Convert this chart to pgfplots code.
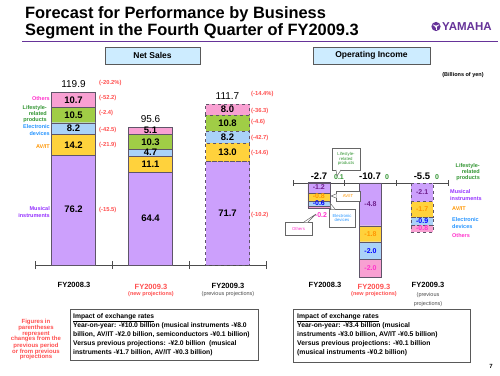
\documentclass[border=0pt]{standalone}
\usepackage{pgfplots}
\pgfplotsset{compat=1.18}
\usepackage{fontspec}
\setmainfont{Liberation Sans}
\newcommand{\fs}[2]{\fontsize{#1}{#2}\selectfont}
\definecolor{mus}{RGB}{204,160,252}
\definecolor{avit}{RGB}{255,210,60}
\definecolor{elec}{RGB}{170,210,248}
\definecolor{life}{RGB}{160,205,70}
\definecolor{oth}{RGB}{248,160,210}
\definecolor{edge}{RGB}{95,85,105}
\definecolor{tOth}{RGB}{255,51,204}
\definecolor{tLife}{RGB}{51,150,51}
\definecolor{tElec}{RGB}{40,150,255}
\definecolor{tAv}{RGB}{255,150,0}
\definecolor{tMus}{RGB}{150,50,255}
\definecolor{tMusD}{RGB}{110,30,140}
\definecolor{tRed}{RGB}{255,80,80}
\definecolor{purp}{RGB}{102,51,153}
\definecolor{hdr}{RGB}{205,236,255}
\pgfplotsset{
  nsbase/.style={at={(35pt,110pt)}, anchor=south west, scale only axis,
    width=231pt, height=187.6pt, xmin=-0.5, xmax=2.5, ymin=0, ymax=130,
    ybar stacked, bar width=44pt, clip=false},
  oibase/.style={at={(293pt,85.2pt)}, anchor=south west, scale only axis,
    width=155pt, height=115.7pt, xmin=-0.5, xmax=2.5, ymin=-12, ymax=1,
    ybar stacked, bar width=22pt, clip=false},
}
\begin{document}
\begin{tikzpicture}
\useasboundingbox (0,0) rectangle (500pt,375pt);
\fill[white] (0,0) rectangle (500pt,375pt);

% ---------------- Net Sales: FY2008.3 and FY2009.3 new
\begin{axis}[nsbase, axis x line=bottom, axis y line=none,
  xtick={-0.5,0.5,1.5,2.5}, xticklabels={}, major tick length=8pt,
  tick align=center, axis line style={-, black!70, line width=0.8pt},
  tick style={black!70, line width=0.8pt}]
\addplot[fill=mus, draw=edge] coordinates {(0,76.2) (1,64.4)};
\addplot[fill=avit, draw=edge] coordinates {(0,14.2) (1,11.1)};
\addplot[fill=elec, draw=edge] coordinates {(0,8.2) (1,4.7)};
\addplot[fill=life, draw=edge] coordinates {(0,10.5) (1,10.3)};
\addplot[fill=oth, draw=edge] coordinates {(0,10.7) (1,5.1)};
\end{axis}

% ---------------- Net Sales: FY2009.3 previous (dashed)
\begin{axis}[nsbase, hide axis]
\addplot[fill=mus, draw=edge, dashed] coordinates {(2,71.7)};
\addplot[fill=avit, draw=edge, dashed] coordinates {(2,13.0)};
\addplot[fill=elec, draw=edge, dashed] coordinates {(2,8.2)};
\addplot[fill=life, draw=edge, dashed] coordinates {(2,10.8)};
\addplot[fill=oth, draw=edge, dashed] coordinates {(2,8.0)};
\end{axis}

% ---------------- Net Sales value labels
\begin{axis}[nsbase, hide axis]
\node[font=\fs{9.5}{10}\bfseries] at (axis cs:0,38.8) {76.2};
\node[font=\fs{9.5}{10}\bfseries] at (axis cs:0,83.3) {14.2};
\node[font=\fs{9.5}{10}\bfseries] at (axis cs:0,94.5) {8.2};
\node[font=\fs{9.5}{10}\bfseries] at (axis cs:0,103.85) {10.5};
\node[font=\fs{9.5}{10}\bfseries] at (axis cs:0,114.45) {10.7};
\node[font=\fs{9.5}{10}\bfseries] at (axis cs:1,32.6) {64.4};
\node[font=\fs{9.5}{10}\bfseries] at (axis cs:1,69.95) {11.1};
\node[font=\fs{9.5}{10}\bfseries] at (axis cs:1,77.85) {4.7};
\node[font=\fs{9.5}{10}\bfseries] at (axis cs:1,85.35) {10.3};
\node[font=\fs{9.5}{10}\bfseries] at (axis cs:1,93.05) {5.1};
\node[font=\fs{9.5}{10}\bfseries] at (axis cs:2,35.85) {71.7};
\node[font=\fs{9.5}{10}\bfseries] at (axis cs:2,78.2) {13.0};
\node[font=\fs{9.5}{10}\bfseries] at (axis cs:2,88.8) {8.2};
\node[font=\fs{9.5}{10}\bfseries] at (axis cs:2,98.3) {10.8};
\node[font=\fs{9.5}{10}\bfseries] at (axis cs:2,107.7) {8.0};
\node[anchor=south, font=\fs{10}{11}] at (axis cs:0,120.5) {119.9};
\node[anchor=south, font=\fs{10}{11}] at (axis cs:1,96.2) {95.6};
\node[anchor=south, font=\fs{10}{11}] at (axis cs:2,112.3) {111.7};
\end{axis}

% ---------------- Operating Income: FY2008.3 and FY2009.3 new
\begin{axis}[oibase, axis x line=middle, axis y line=none,
  xtick={-0.5,0.5,1.5,2.5}, xticklabels={}, major tick length=6pt,
  tick align=center, axis line style={-, black!70, line width=0.8pt},
  tick style={black!70, line width=0.8pt}]
\addplot[fill=life, draw=edge] coordinates {(0,0.1) (1,0)};
\addplot[fill=mus, draw=edge] coordinates {(0,-1.2) (1,-4.8)};
\addplot[fill=avit, draw=edge] coordinates {(0,-0.8) (1,-1.8)};
\addplot[fill=elec, draw=edge] coordinates {(0,-0.6) (1,-2.0)};
\addplot[fill=oth, draw=edge] coordinates {(0,-0.2) (1,-2.0)};
\end{axis}

% ---------------- Operating Income: FY2009.3 previous (dashed)
\begin{axis}[oibase, hide axis]
\addplot[fill=life, draw=edge, dashed] coordinates {(2,0)};
\addplot[fill=mus, draw=edge, dashed] coordinates {(2,-2.1)};
\addplot[fill=avit, draw=edge, dashed] coordinates {(2,-1.7)};
\addplot[fill=elec, draw=edge, dashed] coordinates {(2,-0.9)};
\addplot[fill=oth, draw=edge, dashed] coordinates {(2,-0.8)};
\end{axis}

% ---------------- Operating Income value labels
\begin{axis}[oibase, hide axis]
\node[font=\fs{7}{7}\bfseries, text=tMusD] at (axis cs:0,-0.5) {-1.2};
\node[font=\fs{7}{7}\bfseries, text=tAv] at (axis cs:0,-1.5) {-0.8};
\node[font=\fs{7}{7}\bfseries, text=blue] at (axis cs:0,-2.25) {-0.6};
\node[font=\fs{7}{7}\bfseries, text=tMusD] at (axis cs:1,-2.4) {-4.8};
\node[font=\fs{7}{7}\bfseries, text=tAv] at (axis cs:1,-5.7) {-1.8};
\node[font=\fs{7}{7}\bfseries, text=blue] at (axis cs:1,-7.6) {-2.0};
\node[font=\fs{7}{7}\bfseries, text=tOth] at (axis cs:1,-9.6) {-2.0};
\node[font=\fs{7}{7}\bfseries, text=tMusD] at (axis cs:2,-1.05) {-2.1};
\node[font=\fs{7}{7}\bfseries, text=tAv] at (axis cs:2,-2.95) {-1.7};
\node[font=\fs{7}{7}\bfseries, text=blue] at (axis cs:2,-4.25) {-0.9};
\node[font=\fs{7}{7}\bfseries, text=tOth] at (axis cs:2,-5.1) {-0.8};
\end{axis}

% ---------------- Annotations in pixel coordinates (y downward)
\begin{scope}[x=1pt,y=-1pt,yshift=375pt]
% title
\node[anchor=base west, inner sep=0, font=\fs{16.4}{18}\bfseries] at (25,19) {Forecast for Performance by Business};
\node[anchor=base west, inner sep=0, font=\fs{16.4}{18}\bfseries] at (25,36) {Segment in the Fourth Quarter of FY2009.3};
\draw[purp, line width=1.3pt] (22,41.5) -- (498,41.5);
% logo
\fill[purp] (436,26.5) circle (4.6);
\foreach \a in {90,210,330} {\draw[white, line width=0.7pt] (436,26.5) -- ++(\a:3.6);}
\fill[white] (436,26.5) circle (1.3);
\node[anchor=west, inner sep=0, text=purp, font=\fs{11.5}{12}\bfseries] at (442,26.5) {YAMAHA};
% headers
\draw[gray!70!black, fill=hdr] (105,47) rectangle (200,64);
\node[font=\fs{8.5}{9}\bfseries] at (152.5,55.5) {Net Sales};
\draw[gray!70!black, fill=hdr] (313,47) rectangle (430,64);
\node[font=\fs{8.5}{9}\bfseries] at (371.5,55.5) {Operating Income};
\node[font=\fs{5.5}{6}\bfseries] at (463,75) {(Billions of yen)};
% left legend
\node[anchor=east, align=right, inner sep=0, font=\fs{5.5}{6.3}\bfseries, text=tOth] at (50,99) {Others};
\node[anchor=east, align=right, inner sep=0, font=\fs{5.5}{6.3}\bfseries, text=tLife] at (47,114) {Lifestyle-\\related\\products};
\node[anchor=east, align=right, inner sep=0, font=\fs{5.5}{6.3}\bfseries, text=tElec] at (50,130) {Electronic\\devices};
\node[anchor=east, align=right, inner sep=0, font=\fs{5.5}{6.3}\bfseries, text=tAv] at (50,147) {AV/IT};
\node[anchor=east, align=right, inner sep=0, font=\fs{5.5}{6.3}\bfseries, text=tMus] at (50,212) {Musical\\instruments};
% percentages
\node[anchor=west, inner sep=0, text=tRed, font=\fs{5.8}{6}\bfseries] at (99,83) {(-20.2\%)};
\node[anchor=west, inner sep=0, text=tRed, font=\fs{5.8}{6}\bfseries] at (99,98) {(-52.2)};
\node[anchor=west, inner sep=0, text=tRed, font=\fs{5.8}{6}\bfseries] at (99,113) {(-2.4)};
\node[anchor=west, inner sep=0, text=tRed, font=\fs{5.8}{6}\bfseries] at (99,130) {(-42.5)};
\node[anchor=west, inner sep=0, text=tRed, font=\fs{5.8}{6}\bfseries] at (99,145) {(-21.9)};
\node[anchor=west, inner sep=0, text=tRed, font=\fs{5.8}{6}\bfseries] at (99,210) {(-15.5)};
\node[anchor=west, inner sep=0, text=tRed, font=\fs{5.8}{6}\bfseries] at (251,94) {(-14.4\%)};
\node[anchor=west, inner sep=0, text=tRed, font=\fs{5.8}{6}\bfseries] at (251,111) {(-36.3)};
\node[anchor=west, inner sep=0, text=tRed, font=\fs{5.8}{6}\bfseries] at (251,122) {(-4.6)};
\node[anchor=west, inner sep=0, text=tRed, font=\fs{5.8}{6}\bfseries] at (251,138) {(-42.7)};
\node[anchor=west, inner sep=0, text=tRed, font=\fs{5.8}{6}\bfseries] at (251,153) {(-14.6)};
\node[anchor=west, inner sep=0, text=tRed, font=\fs{5.8}{6}\bfseries] at (251,215) {(-10.2)};
% category labels
\node[font=\fs{7.5}{8}\bfseries] at (74,285) {FY2008.3};
\node[font=\fs{7.5}{8}\bfseries, text=tRed] at (151,287) {FY2009.3};
\node[font=\fs{5.5}{6}\bfseries, text=tRed] at (151,294) {(new projections)};
\node[font=\fs{7.5}{8}\bfseries] at (228,286) {FY2009.3};
\node[font=\fs{5.5}{6}, text=black!70] at (228,294) {(previous projections)};
\node[font=\fs{7.5}{8}\bfseries] at (325,285) {FY2008.3};
\node[font=\fs{7.5}{8}\bfseries, text=tRed] at (374,287) {FY2009.3};
\node[font=\fs{5.5}{6}\bfseries, text=tRed] at (374,294) {(new projections)};
\node[font=\fs{7.5}{8}\bfseries] at (428,285) {FY2009.3};
\node[font=\fs{5.5}{8.5}, text=black!70, align=center] at (428,299.5) {(previous\\projections)};
% OI totals
\node[font=\fs{9.5}{10}\bfseries] at (319,176) {-2.7};
\node[font=\fs{7}{7}\bfseries, text=tLife] at (339,177.5) {0.1};
\node[font=\fs{9.5}{10}\bfseries] at (370,176) {-10.7};
\node[font=\fs{7}{7}\bfseries, text=tLife] at (387,177.5) {0};
\node[font=\fs{9.5}{10}\bfseries] at (422,176) {-5.5};
\node[font=\fs{7}{7}\bfseries, text=tLife] at (437,177.5) {0};
\node[font=\fs{7}{7}\bfseries, text=tOth] at (321,215) {-0.2};
% OI right legend
\node[inner sep=0, font=\fs{5.5}{6.3}\bfseries, anchor=east, align=right, text=tLife] at (480,172) {Lifestyle-\\related\\products};
\node[inner sep=0, font=\fs{5.5}{6.3}\bfseries, anchor=west, align=left, text=tMus] at (450,195) {Musical\\instruments};
\node[inner sep=0, font=\fs{5.5}{6.3}\bfseries, anchor=west, text=tAv] at (452,209) {AV/IT};
\node[inner sep=0, font=\fs{5.5}{6.3}\bfseries, anchor=west, align=left, text=tElec] at (452,223) {Electronic\\devices};
\node[inner sep=0, font=\fs{5.5}{6.3}\bfseries, anchor=west, text=tOth] at (452,236) {Others};
% callouts
\draw[gray!80!black, line width=0.5pt, fill=white] (332,148) rectangle (360,170);
\fill[white] (336,169.5) -- (337,176) -- (341,169.5) -- cycle;
\draw[gray!80!black, line width=0.5pt] (336,170) -- (337,176) -- (341,170);
\node[font=\fs{4.3}{4.8}, text=tLife, align=center] at (346,159) {Lifestyle-\\related\\products};
\draw[gray!80!black, line width=0.5pt, fill=white] (336,191) rectangle (360,201);
\fill[white] (336.5,194) -- (331,196) -- (336.5,198) -- cycle;
\draw[gray!80!black, line width=0.5pt] (336,194) -- (331,196) -- (336,198);
\node[font=\fs{4.3}{4.8}, text=tAv] at (348,196) {AV/IT};
\draw[gray!80!black, line width=0.5pt, fill=white] (329,209) rectangle (355,227);
\fill[white] (331,209.5) -- (330,203) -- (335,209.5) -- cycle;
\draw[gray!80!black, line width=0.5pt] (331,209) -- (330,203) -- (335,209);
\node[font=\fs{4.3}{4.8}, text=tElec, align=center] at (342,218) {Electronic\\devices};
\draw[gray!80!black, line width=0.5pt, fill=white] (285,222) rectangle (312,235);
\fill[white] (304,222.5) -- (316,214) -- (308,222.5) -- cycle;
\draw[gray!80!black, line width=0.5pt] (304,222) -- (316,214) -- (308,222);
\node[font=\fs{4.3}{4.8}, text=tOth] at (298.5,228.5) {Others};
% bottom notes
\node[anchor=north, align=center, inner sep=0, text=tRed, font=\fs{6}{5.6}\bfseries] at (36,318.5) {Figures in\\parentheses\\represent\\changes from the\\previous period\\or from previous\\projections};
\draw[gray!70!black, line width=0.8pt] (70,309) rectangle (258,360);
\node[anchor=north west, align=left, inner sep=0, font=\fs{6.75}{9}\bfseries] at (73,313.5) {\underline{Impact of exchange rates}\\Year-on-year: -¥10.0 billion (musical instruments -¥8.0\\billion, AV/IT -¥2.0 billion, semiconductors -¥0.1 billion)\\Versus previous projections: -¥2.0 billion\ \ (musical\\instruments -¥1.7 billion, AV/IT -¥0.3 billion)};
\draw[gray!70!black, line width=0.8pt] (293,309) rectangle (470,362);
\node[anchor=north west, align=left, inner sep=0, font=\fs{6.8}{9}\bfseries] at (297,313.5) {\underline{Impact of exchange rates}\\Year-on-year: -¥3.4 billion (musical\\instruments -¥3.0 billion, AV/IT -¥0.5 billion)\\Versus previous projections: -¥0.1 billion\\(musical instruments -¥0.2 billion)};
\node[font=\fs{6}{6}\bfseries] at (491,366) {7};
\end{scope}
\end{tikzpicture}
\end{document}
